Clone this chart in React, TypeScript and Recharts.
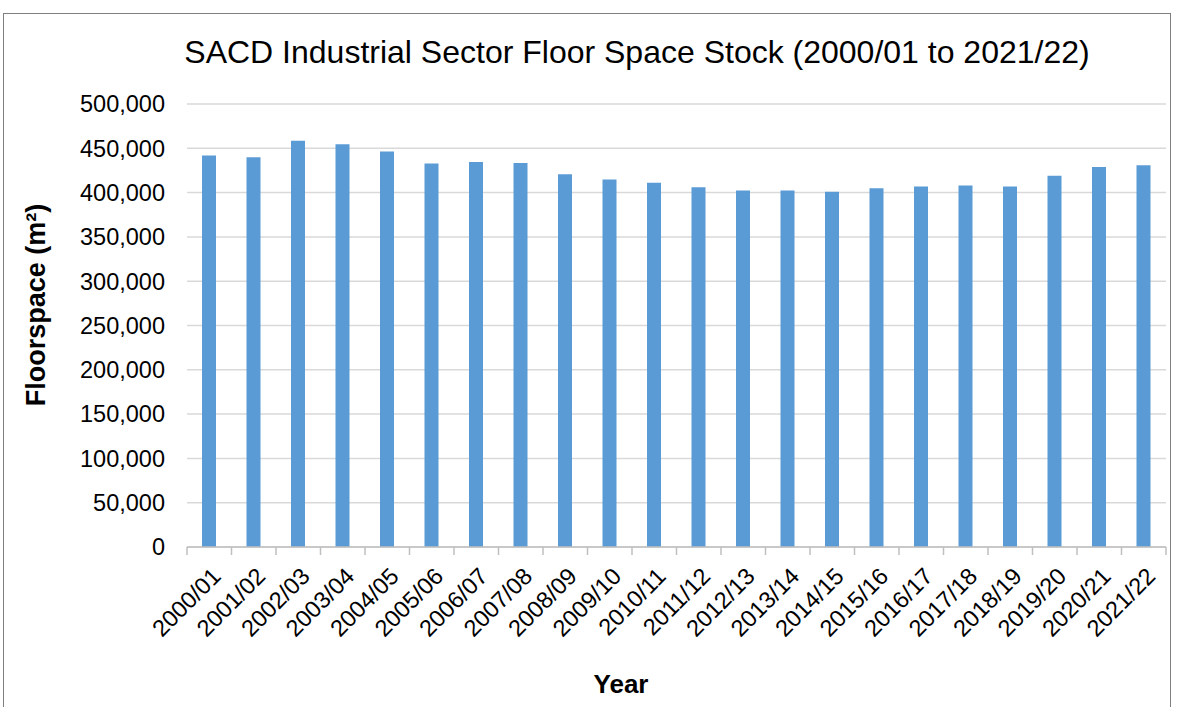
import { Bar, BarChart, CartesianGrid, XAxis, YAxis } from "recharts";

const years = [
  "2000/01", "2001/02", "2002/03", "2003/04", "2004/05", "2005/06",
  "2006/07", "2007/08", "2008/09", "2009/10", "2010/11", "2011/12",
  "2012/13", "2013/14", "2014/15", "2015/16", "2016/17", "2017/18",
  "2018/19", "2019/20", "2020/21", "2021/22",
];

const floorspace = [
  442000, 440000, 458500, 454500, 446500, 432800, 434600, 433500,
  420700, 414700, 411000, 406000, 402300, 402300, 401000, 405000,
  407000, 408000, 407000, 419000, 428800, 430800,
];

const yTicks = [0, 50000, 100000, 150000, 200000, 250000, 300000, 350000, 400000, 450000, 500000];

const data = years.map((year, i) => ({ year, value: floorspace[i] }));

const FONT = '"Liberation Sans", Arial, sans-serif';
const TICK_SIZE = 23.5;

function YearTick(props: any) {
  const { x, y, payload, index, width, visibleTicksCount } = props;
  const band = width && visibleTicksCount ? width / visibleTicksCount : 44.5;
  const left = x - band / 2;
  const ax = x + 1;
  const ay = y + 11;
  return (
    <g>
      <line x1={left} y1={y - 8} x2={left} y2={y} stroke="#bfbfbf" strokeWidth={1.5} />
      {index === visibleTicksCount - 1 && (
        <line x1={left + band} y1={y - 8} x2={left + band} y2={y} stroke="#bfbfbf" strokeWidth={1.5} />
      )}
      <text
        x={ax}
        y={ay}
        textAnchor="end"
        dominantBaseline="hanging"
        transform={`rotate(-45, ${ax}, ${ay})`}
        fill="#000"
        fontSize={TICK_SIZE}
        fontFamily={FONT}
      >
        {payload.value}
      </text>
    </g>
  );
}

export default function App() {
  return (
    <div style={{ position: "absolute", left: 0, top: 0, width: 1182, height: 707, background: "#fff", overflow: "hidden" }}>
      <div
        style={{
          position: "absolute",
          left: 3,
          top: 13,
          width: 1166,
          height: 720,
          border: "1.5px solid #7f7f7f",
          borderBottom: "none",
        }}
      />
      <BarChart
        width={1182}
        height={707}
        data={data}
        margin={{ top: 104, right: 16, left: 0, bottom: 0 }}
        style={{ position: "absolute", left: 0, top: 0 }}
      >
        <CartesianGrid horizontal vertical={false} stroke="#d9d9d9" strokeWidth={1.5} />
        <XAxis
          dataKey="year"
          interval={0}
          height={160}
          axisLine={{ stroke: "#bfbfbf", strokeWidth: 1.5 }}
          tickLine={false}
          tick={<YearTick />}
        />
        <YAxis
          width={187}
          domain={[0, 500000]}
          ticks={yTicks}
          interval={0}
          axisLine={false}
          tickLine={false}
          tickSize={0}
          tickMargin={22}
          tick={{ fill: "#000", fontSize: TICK_SIZE, fontFamily: FONT }}
          tickFormatter={(v: number) => v.toLocaleString("en-US")}
        />
        <Bar dataKey="value" fill="#5b9bd5" barSize={14} isAnimationActive={false} />
      </BarChart>
      <svg width={1182} height={707} style={{ position: "absolute", left: 0, top: 0, pointerEvents: "none" }}>
        <text x={637} y={63} textAnchor="middle" fontSize={32} fontFamily={FONT} fill="#000">
          SACD Industrial Sector Floor Space Stock (2000/01 to 2021/22)
        </text>
        <text
          x={45}
          y={305}
          textAnchor="middle"
          fontSize={27}
          fontWeight="bold"
          fontFamily={FONT}
          fill="#000"
          transform="rotate(-90, 45, 305)"
        >
          Floorspace (m²)
        </text>
        <text x={621} y={693} textAnchor="middle" fontSize={26} fontWeight="bold" fontFamily={FONT} fill="#000">
          Year
        </text>
      </svg>
    </div>
  );
}
